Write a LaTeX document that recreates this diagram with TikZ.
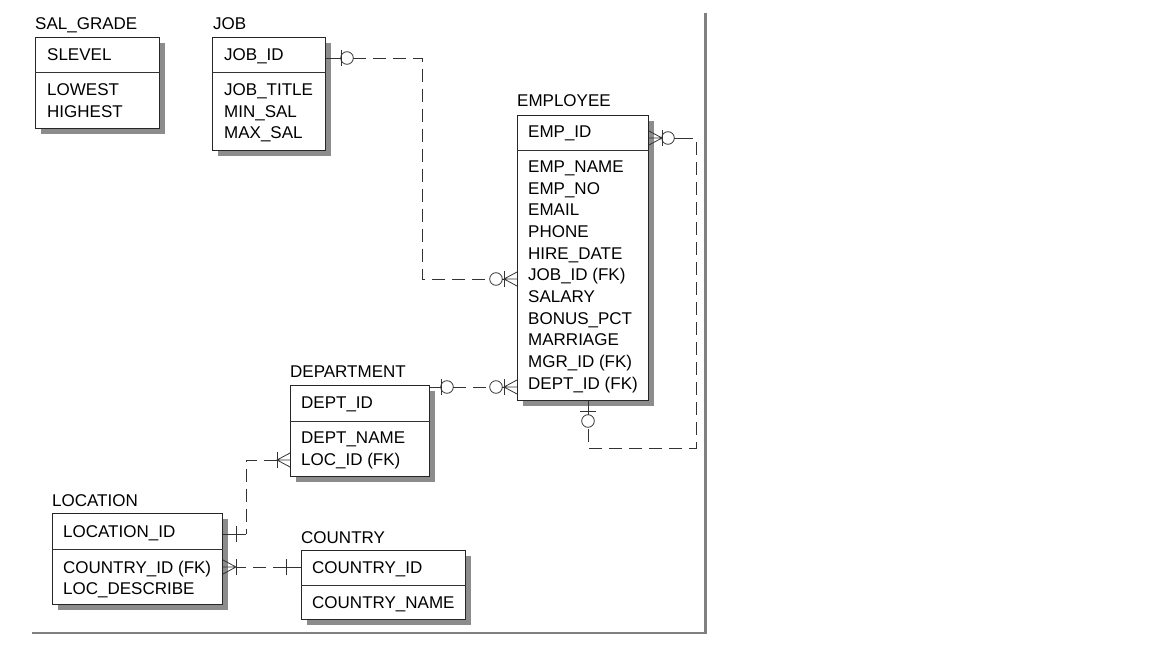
\documentclass[tikz,border=0pt]{standalone}
\usepackage{fontspec}
\setmainfont{Liberation Sans}
\usetikzlibrary{shadows,calc}
\begin{document}
\begin{tikzpicture}[x=1bp,y=-1bp,
  ent/.style={draw=black!85, line width=0.9bp, fill=white, anchor=north west, inner sep=0pt,
    drop shadow={shadow xshift=6bp, shadow yshift=-6bp, fill=black!45, opacity=1}},
  txt/.style={anchor=base west, inner sep=0pt, font=\fontsize{17bp}{21bp}\selectfont},
  rel/.style={line width=0.8bp, black!80},
  dsh/.style={rel, dash pattern=on 13bp off 7bp},
  onebar/.pic={\draw[rel] (0,-8) -- (0,8);},
  crowfoot/.pic={\draw[rel] (13,-7) -- (0,0) -- (13,7) (0,0) -- (13,0);},
  zcirc/.pic={\draw[rel] (0,0) circle[radius=6.3bp];}
]
\useasboundingbox (0,0) rectangle (1152,648);

% frame
\draw[line width=3bp, black!50] (705.5,13) -- (705.5,634);
\draw[line width=2.5bp, black!50] (32,633) -- (707,633);

% ---------- entities ----------
\node[ent, minimum width=124bp, minimum height=91bp] (salgrade) at (35,37) {};
\draw[rel] (salgrade.west |- 0,72) -- (salgrade.east |- 0,72);
\node[txt] (sgT) at (35,30) {SAL\_GRADE};
\node[txt] (sg1) at (47,61) {SLEVEL};
\node[txt] (sg2) at (47,96) {LOWEST};
\node[txt] (sg3) at (47,117.5) {HIGHEST};

\node[ent, minimum width=113bp, minimum height=113bp] (job) at (212,37) {};
\draw[rel] (job.west |- 0,72) -- (job.east |- 0,72);
\node[txt] (jobT) at (213,30) {JOB};
\node[txt] (job1) at (224,61) {JOB\_ID};
\node[txt] (job2) at (224,96) {JOB\_TITLE};
\node[txt] (job3) at (224,117.5) {MIN\_SAL};
\node[txt] (job4) at (224,139) {MAX\_SAL};

\node[ent, minimum width=131bp, minimum height=285bp] (emp) at (517,115) {};
\draw[rel] (emp.west |- 0,150) -- (emp.east |- 0,150);
\node[txt] (empT) at (517,107) {EMPLOYEE};
\node[txt] (empK) at (528,138) {EMP\_ID};
\foreach \t [count=\i from 0] in {EMP\_NAME, EMP\_NO, EMAIL, PHONE, HIRE\_DATE, JOB\_ID (FK), SALARY, BONUS\_PCT, MARRIAGE, MGR\_ID (FK), DEPT\_ID (FK)}
  \node[txt] (emp\i) at (528,172.5+21.65*\i) {\t};

\node[ent, minimum width=139bp, minimum height=91bp] (dept) at (290,385) {};
\draw[rel] (dept.west |- 0,421) -- (dept.east |- 0,421);
\node[txt] (deptT) at (290,377) {DEPARTMENT};
\node[txt] (dept1) at (301,408) {DEPT\_ID};
\node[txt] (dept2) at (301,443) {DEPT\_NAME};
\node[txt] (dept3) at (301,465) {LOC\_ID (FK)};

\node[ent, minimum width=164bp, minimum height=69bp] (country) at (301,550) {};
\draw[rel] (country.west |- 0,585) -- (country.east |- 0,585);
\node[txt] (ctyT) at (301,543) {COUNTRY};
\node[txt] (cty1) at (312,573) {COUNTRY\_ID};
\node[txt] (cty2) at (312,608) {COUNTRY\_NAME};

\node[ent, minimum width=170bp, minimum height=91bp] (loc) at (52,513) {};
\draw[rel] (loc.west |- 0,549) -- (loc.east |- 0,549);
\node[txt] (locT) at (52,506) {LOCATION};
\node[txt] (loc1) at (63,537) {LOCATION\_ID};
\node[txt] (loc2) at (63,573) {COUNTRY\_ID (FK)};
\node[txt] (loc3) at (63,594) {LOC\_DESCRIBE};

% ---------- connector coordinates ----------
\coordinate (jy) at (0,58);
\coordinate (dy) at (0,387);
\coordinate (lly) at (0,534);
\coordinate (cy) at (0,567);

% JOB -> EMPLOYEE
\draw[rel] (job.east |- jy) -- (341,58);
\pic at (341,58) {onebar};
\pic at (347,58) {zcirc};
\draw[dsh] (353,58) -| (422,279) -- (490,279);
\pic at (496,279) {zcirc};
\draw[rel] (502,279) -- (504,279);
\pic at (504,279) {onebar};
\pic at (504,279) {crowfoot};

% DEPARTMENT -> EMPLOYEE
\draw[rel] (dept.east |- dy) -- (441,387);
\pic at (441,387) {onebar};
\pic at (447,387) {zcirc};
\draw[dsh] (453,387) -- (490,387);
\pic at (496,387) {zcirc};
\draw[rel] (502,387) -- (504,387);
\pic at (504,387) {onebar};
\pic at (504,387) {crowfoot};

% EMPLOYEE self (manager)
\pic[rotate=180] at (662,138) {crowfoot};
\pic at (662,138) {onebar};
\pic at (668,138) {zcirc};
\draw[rel] (674,138) -- (693,138);
\draw[dsh] (696,142) |- (588,448) -- (588,427);
\pic at (588,421) {zcirc};
\draw[rel] (emp.south -| 588,0) -- (588,415);
\pic[rotate=90] at (588,411) {onebar};

% LOCATION -> DEPARTMENT
\pic at (277,460) {crowfoot};
\pic at (277,460) {onebar};
\draw[dsh] (277,460) -| (246,534);
\draw[rel] (246,534) -- (loc.east |- lly);
\pic at (236,534) {onebar};

% COUNTRY -> LOCATION
\draw[rel] (country.west |- cy) -- (286,567);
\pic at (286,567) {onebar};
\draw[dsh] (286,567) -- (236,567);
\pic at (236,567) {onebar};
\pic[rotate=180] at (236,567) {crowfoot};
\end{tikzpicture}
\end{document}
